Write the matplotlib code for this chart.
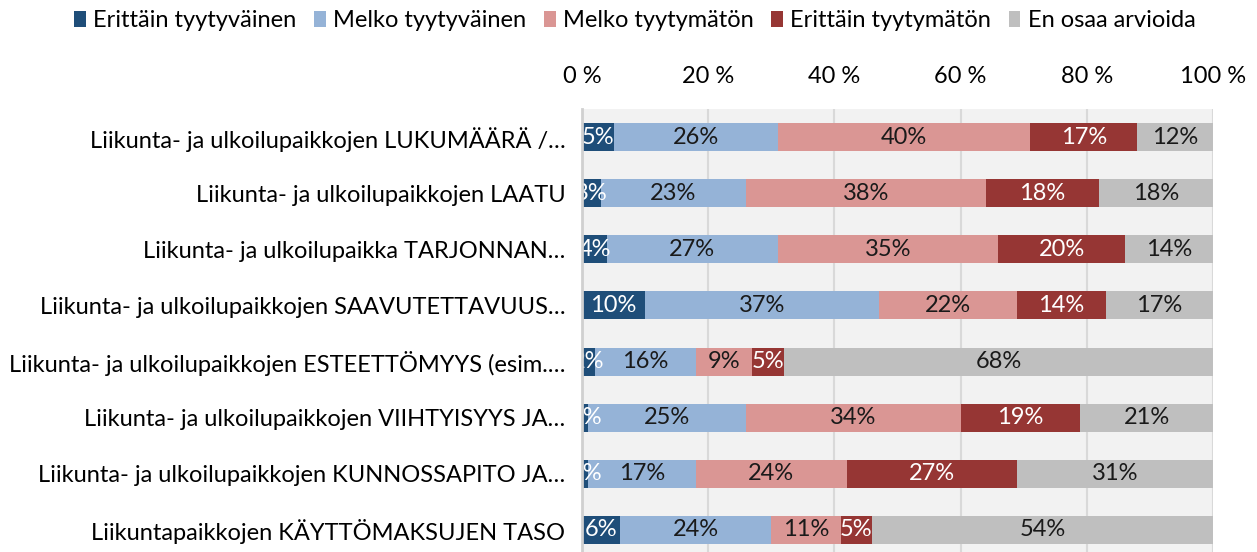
import matplotlib
matplotlib.use('Agg')
import matplotlib.pyplot as plt
import numpy as np

plt.rcParams['font.family'] = ['Lato', 'DejaVu Sans']

categories = [
    'Liikunta- ja ulkoilupaikkojen LUKUMÄÄRÄ /…',
    'Liikunta- ja ulkoilupaikkojen LAATU',
    'Liikunta- ja ulkoilupaikka TARJONNAN…',
    'Liikunta- ja ulkoilupaikkojen SAAVUTETTAVUUS…',
    'Liikunta- ja ulkoilupaikkojen ESTEETTÖMYYS (esim.…',
    'Liikunta- ja ulkoilupaikkojen VIIHTYISYYS JA…',
    'Liikunta- ja ulkoilupaikkojen KUNNOSSAPITO JA…',
    'Liikuntapaikkojen KÄYTTÖMAKSUJEN TASO',
]
series_names = ['Erittäin tyytyväinen', 'Melko tyytyväinen', 'Melko tyytymätön',
                'Erittäin tyytymätön', 'En osaa arvioida']
erittain_tyytyvainen = [5, 3, 4, 10, 2, 1, 1, 6]
melko_tyytyvainen = [26, 23, 27, 37, 16, 25, 17, 24]
melko_tyytymaton = [40, 38, 35, 22, 9, 34, 24, 11]
erittain_tyytymaton = [17, 18, 20, 14, 5, 19, 27, 5]
en_osaa = [12, 18, 14, 17, 68, 21, 31, 54]
x_ticks = [0, 20, 40, 60, 80, 100]

series = [erittain_tyytyvainen, melko_tyytyvainen, melko_tyytymaton,
          erittain_tyytymaton, en_osaa]
colors = ['#1F4E79', '#95B3D7', '#DA9694', '#963634', '#BFBFBF']
text_colors = ['white', '#1a1a1a', '#1a1a1a', 'white', '#1a1a1a']

fig = plt.figure(figsize=(12.57, 5.52), dpi=100)
ax = fig.add_axes([0.463, -0.0109, 0.502, 0.8134])
ax.set_facecolor('#F2F2F2')

y = np.arange(len(categories))
left = np.zeros(len(categories))
for vals, name, c, tc in zip(series, series_names, colors, text_colors):
    vals = np.array(vals, dtype=float)
    ax.barh(y, vals, left=left, height=0.5, color=c, label=name, zorder=3)
    for yi, (l, v) in enumerate(zip(left, vals)):
        ax.text(l + v / 2, yi, f'{int(v)}%', ha='center', va='center',
                fontsize=17, color=tc, zorder=4, clip_on=True)
    left += vals

ax.set_xlim(0, 100)
ax.set_ylim(len(categories) - 0.5, -0.5)
ax.set_yticks(y)
ax.set_yticklabels(categories, fontsize=17)
ax.set_xticks(x_ticks)
ax.set_xticklabels([f'{t} %' for t in x_ticks], fontsize=17)
ax.xaxis.tick_top()
ax.tick_params(axis='x', length=0, pad=16)
ax.tick_params(axis='y', length=0, pad=12)
ax.grid(axis='x', color='#D9D9D9', linewidth=1.5, zorder=0)
for s in ['top', 'right', 'bottom']:
    ax.spines[s].set_visible(False)
ax.spines['left'].set_color('#D0D0D0')
ax.spines['left'].set_linewidth(2)
ax.spines['left'].set_zorder(5)

fig.legend(loc='upper center', bbox_to_anchor=(0.505, 1.02), ncol=5,
           frameon=False, fontsize=17, handlelength=0.5, handleheight=0.7,
           handletextpad=0.3, columnspacing=0.75)

fig.savefig('out.png', dpi=100)
